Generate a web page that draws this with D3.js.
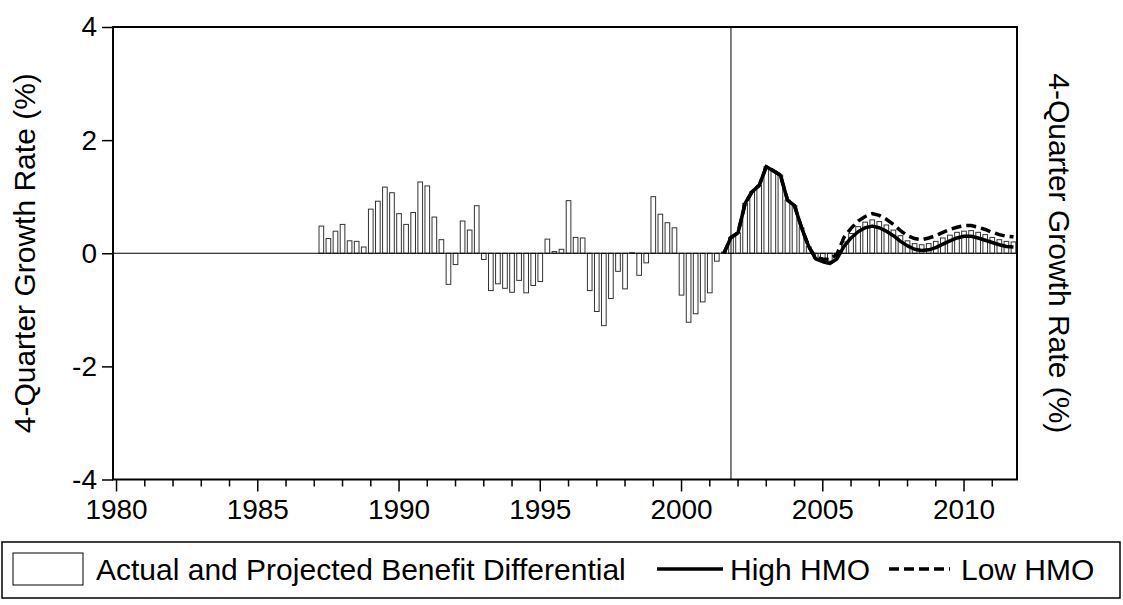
<!DOCTYPE html>
<html>
<head>
<meta charset="utf-8">
<script src="https://cdn.jsdelivr.net/npm/d3@7/dist/d3.min.js"></script>
<style>
  body { margin: 0; background: #fff; }
  svg { display: block; font-family: "Liberation Sans", Arial, sans-serif; }
</style>
</head>
<body>
<svg id="chart" width="1123" height="605"></svg>
<script>
// historical benefit differential, quarterly from 1987Q2
const histStart = [1987, 2];
const histValues = [
  0.48, 0.26, 0.39, 0.51, 0.22, 0.21, 0.11, 0.78, 0.92, 1.17, 1.07, 0.70,
  0.51, 0.72, 1.26, 1.19, 0.64, 0.24, -0.55, -0.20, 0.57, 0.41, 0.84, -0.11,
  -0.66, -0.54, -0.62, -0.69, -0.48, -0.70, -0.57, -0.50, 0.25, 0.03, 0.07, 0.93,
  0.28, 0.27, -0.66, -1.03, -1.28, -0.80, -0.32, -0.63, 0.01, -0.39, -0.17, 1.00,
  0.69, 0.54, 0.45, -0.74, -1.22, -1.07, -0.86, -0.70, -0.14
];

// projected differential and HMO scenarios, quarterly from 2001Q3
const projStart = [2001, 3];
const projValues = [
  0.02, 0.28, 0.36, 0.88, 1.09, 1.20, 1.53, 1.46, 1.38, 0.94, 0.84, 0.45,
  0.12, -0.09, -0.12, -0.14, -0.06, 0.20, 0.35, 0.47, 0.55, 0.59, 0.56, 0.50,
  0.41, 0.31, 0.22, 0.17, 0.15, 0.17, 0.21, 0.27, 0.32, 0.37, 0.39, 0.40,
  0.37, 0.33, 0.28, 0.24, 0.21, 0.20
];
const highHMO = [
  0.00, 0.28, 0.36, 0.88, 1.09, 1.20, 1.53, 1.46, 1.38, 0.94, 0.84, 0.45,
  0.12, -0.10, -0.15, -0.18, -0.10, 0.12, 0.27, 0.38, 0.45, 0.48, 0.45, 0.39,
  0.31, 0.21, 0.13, 0.07, 0.05, 0.06, 0.10, 0.16, 0.22, 0.27, 0.30, 0.30,
  0.27, 0.23, 0.19, 0.15, 0.12, 0.11
];
const lowHMO = [
  0.00, 0.28, 0.36, 0.88, 1.09, 1.20, 1.53, 1.46, 1.38, 0.94, 0.84, 0.45,
  0.12, -0.08, -0.10, -0.11, -0.02, 0.28, 0.44, 0.57, 0.65, 0.70, 0.67, 0.60,
  0.51, 0.40, 0.31, 0.26, 0.24, 0.27, 0.31, 0.37, 0.42, 0.46, 0.49, 0.49,
  0.46, 0.42, 0.37, 0.33, 0.30, 0.29
];

const forecastQuarter = [2001, 4];
const yTicks = [-4, -2, 0, 2, 4];
const xLabelYears = [1980, 1985, 1990, 1995, 2000, 2005, 2010];
const xTickYears = d3.range(1980, 2012);
const yTitle = "4-Quarter Growth Rate (%)";
const legendLabels = ["Actual and Projected Benefit Differential", "High HMO", "Low HMO"];

const svg = d3.select("#chart");
const plot = { left: 113, right: 1017, top: 27, bottom: 479.5 };

// quarter -> centre of its slot in fractional years
const qTime = (yr, q) => yr + (q - 1) / 4 + 0.125;
function toSeries(start, values) {
  return values.map((v, i) => {
    const idx = start[1] - 1 + i;
    return { t: qTime(start[0] + Math.floor(idx / 4), (idx % 4) + 1), v };
  });
}

const x = d3.scaleLinear().domain([1980, 2012]).range([plot.left, plot.right]);
const y = d3.scaleLinear().domain([-4, 4]).range([plot.bottom, plot.top]);
const qw = x(1980.25) - x(1980);
const bw = qw * 0.66;

const bars = toSeries(histStart, histValues).concat(toSeries(projStart, projValues));
const high = toSeries(projStart, highHMO);
const low = toSeries(projStart, lowHMO);

// bars
svg.append("g")
  .selectAll("rect")
  .data(bars)
  .enter()
  .append("rect")
  .attr("x", (d) => x(d.t) - bw / 2)
  .attr("y", (d) => y(Math.max(0, d.v)))
  .attr("width", bw)
  .attr("height", (d) => Math.abs(y(d.v) - y(0)))
  .attr("fill", "#fff")
  .attr("stroke", "#333")
  .attr("stroke-width", 1);

// zero line
svg.append("line")
  .attr("x1", plot.left).attr("x2", plot.right)
  .attr("y1", y(0)).attr("y2", y(0))
  .attr("stroke", "#000").attr("stroke-width", 1);

// forecast divider
const fx = x(qTime(...forecastQuarter));
svg.append("line")
  .attr("x1", fx).attr("x2", fx)
  .attr("y1", plot.top).attr("y2", plot.bottom)
  .attr("stroke", "#000").attr("stroke-width", 1);

const line = d3.line().x((d) => x(d.t)).y((d) => y(d.v));

svg.append("path")
  .datum(low)
  .attr("d", line)
  .attr("fill", "none")
  .attr("stroke", "#000")
  .attr("stroke-width", 3.5)
  .attr("stroke-dasharray", "10,5");

svg.append("path")
  .datum(high)
  .attr("d", line)
  .attr("fill", "none")
  .attr("stroke", "#000")
  .attr("stroke-width", 3.5)
  .attr("stroke-linejoin", "round");

// frame
svg.append("rect")
  .attr("x", plot.left).attr("y", plot.top)
  .attr("width", plot.right - plot.left).attr("height", plot.bottom - plot.top)
  .attr("fill", "none").attr("stroke", "#000").attr("stroke-width", 2);

// y axis
const yAxis = svg.append("g").attr("transform", `translate(${plot.left},0)`)
  .call(d3.axisLeft(y).tickValues(yTicks).tickSize(11).tickPadding(5).tickFormat((d) => String(d)));
yAxis.select(".domain").remove();
yAxis.selectAll("line").attr("stroke-width", 1.5);
yAxis.selectAll("text").attr("font-size", 28).attr("font-family", "Liberation Sans, Arial").attr("fill", "#000");

// x axis: minor yearly ticks, major every 5 years
const xAxis = svg.append("g").attr("transform", `translate(0,${plot.bottom})`);
xAxis.selectAll("line")
  .data(xTickYears)
  .enter()
  .append("line")
  .attr("x1", (d) => x(d + 0.125)).attr("x2", (d) => x(d + 0.125))
  .attr("y1", 0)
  .attr("y2", (d) => (d % 5 === 0 ? 12 : 7))
  .attr("stroke", "#000").attr("stroke-width", 1.5);
xAxis.selectAll("text")
  .data(xLabelYears)
  .enter()
  .append("text")
  .attr("x", (d) => x(d + 0.125))
  .attr("y", 39)
  .attr("text-anchor", "middle")
  .attr("font-size", 28)
  .text((d) => d);

// axis titles
svg.append("text")
  .attr("transform", `translate(35,${(plot.top + plot.bottom) / 2}) rotate(-90)`)
  .attr("text-anchor", "middle")
  .attr("font-size", 30)
  .text(yTitle);
svg.append("text")
  .attr("transform", `translate(1049,${(plot.top + plot.bottom) / 2}) rotate(90)`)
  .attr("text-anchor", "middle")
  .attr("font-size", 30)
  .text(yTitle);

// legend
const lg = svg.append("g");
lg.append("rect")
  .attr("x", 2).attr("y", 542).attr("width", 1118).attr("height", 56)
  .attr("fill", "#fff").attr("stroke", "#000").attr("stroke-width", 1.5);
lg.append("rect")
  .attr("x", 13).attr("y", 553).attr("width", 70).attr("height", 32)
  .attr("fill", "#fff").attr("stroke", "#000").attr("stroke-width", 1);
lg.append("text").attr("x", 96).attr("y", 580).attr("font-size", 30).text(legendLabels[0]);
lg.append("line")
  .attr("x1", 657).attr("x2", 723).attr("y1", 569).attr("y2", 569)
  .attr("stroke", "#000").attr("stroke-width", 3.5);
lg.append("text").attr("x", 730).attr("y", 580).attr("font-size", 30).text(legendLabels[1]);
lg.append("line")
  .attr("x1", 889).attr("x2", 950).attr("y1", 569).attr("y2", 569)
  .attr("stroke", "#000").attr("stroke-width", 3.5)
  .attr("stroke-dasharray", "10,5");
lg.append("text").attr("x", 961).attr("y", 580).attr("font-size", 30).text(legendLabels[2]);
</script>
</body>
</html>
